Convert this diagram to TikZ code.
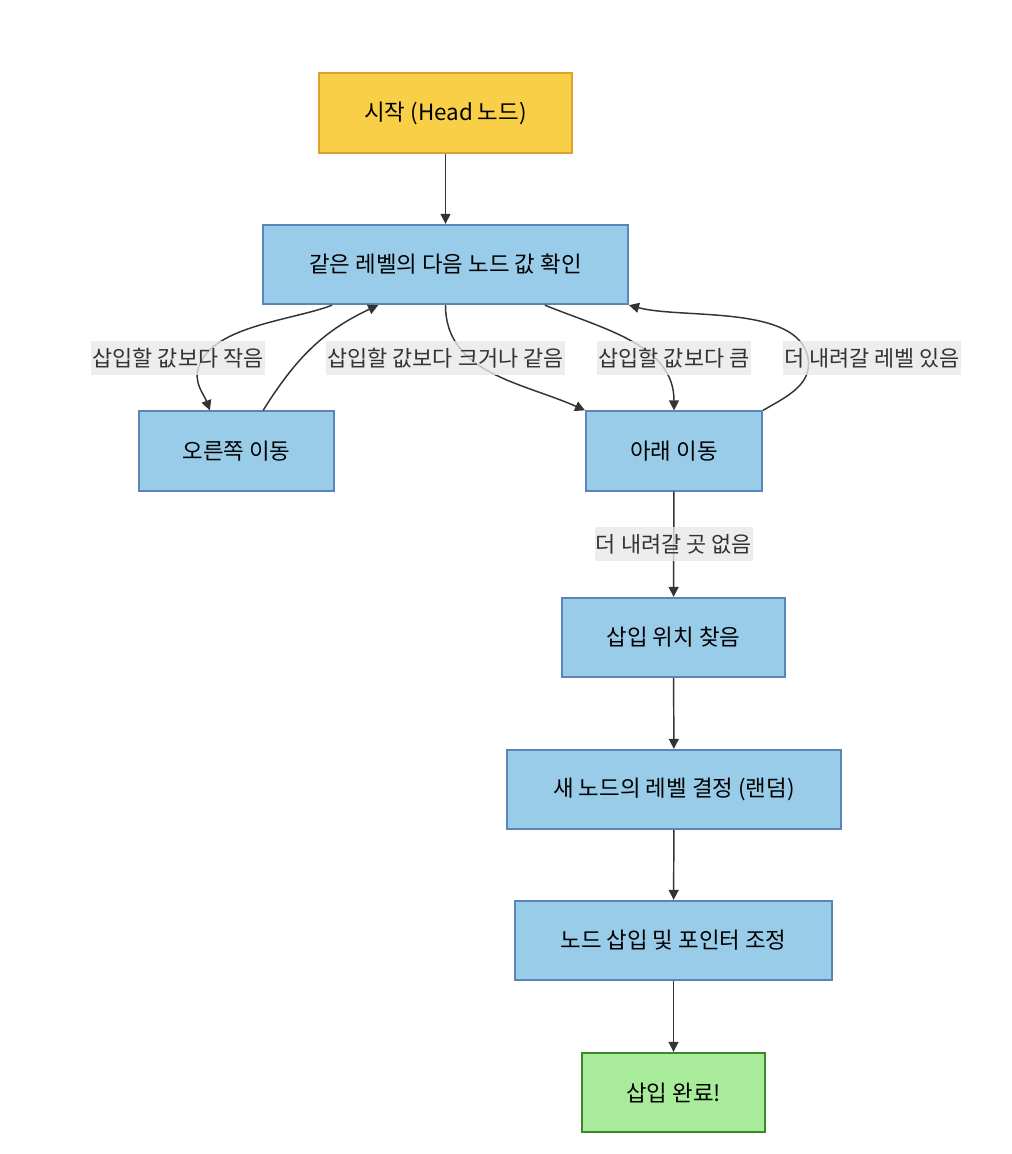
\documentclass[tikz,border=0pt]{standalone}
\usepackage{fontspec}
\setmainfont{Noto Sans CJK KR}
\usepackage{tikz}
\usetikzlibrary{arrows.meta}

\definecolor{startfill}{HTML}{F8CF47}
\definecolor{startline}{HTML}{E0A030}
\definecolor{stepfill}{HTML}{99CCE8}
\definecolor{stepline}{HTML}{5A85B8}
\definecolor{endfill}{HTML}{A8EB9A}
\definecolor{endline}{HTML}{3A8A28}
\definecolor{lblgray}{HTML}{E8E8E8}
\definecolor{edgegray}{HTML}{333333}

\tikzset{
    box/.style={rectangle, line width=1.5pt, minimum height=59.5pt, inner sep=0pt,
        font=\fontsize{16.8pt}{19pt}\selectfont, text=black},
    startbox/.style={box, draw=startline, fill=startfill},
    stepbox/.style={box, draw=stepline, fill=stepfill},
    endbox/.style={box, draw=endline, fill=endfill},
    edge/.style={draw=edgegray, line width=1.1pt,
        -{Triangle[length=7.5pt,width=7.5pt]}},
    lbl/.style={fill=lblgray, fill opacity=0.8, text opacity=1, text=edgegray,
        inner xsep=1pt, inner ysep=0pt, minimum height=25.5pt,
        font=\fontsize{16.4pt}{19pt}\selectfont},
}

\begin{document}
\begin{tikzpicture}[x=0.75pt,y=0.75pt]
\useasboundingbox (0,0) rectangle (1012,-1154);

% nodes
\node[startbox, minimum width=189.75pt] (start) at (445.5,-113) {시작 (Head 노드)};
\node[stepbox, minimum width=273.75pt] (check) at (445.5,-264.5) {같은 레벨의 다음 노드 값 확인};
\node[stepbox, minimum width=146.25pt] (right) at (236.5,-451) {오른쪽 이동};
\node[stepbox, minimum width=132pt] (down) at (674,-451) {아래 이동};
\node[stepbox, minimum width=167.25pt] (found) at (673.5,-637.5) {삽입 위치 찾음};
\node[stepbox, minimum width=250.5pt] (level) at (674,-789.5) {새 노드의 레벨 결정 (랜덤)};
\node[stepbox, minimum width=237.75pt] (insert) at (673.5,-940.5) {노드 삽입 및 포인터 조정};
\node[endbox, minimum width=137.25pt] (done) at (673.5,-1092.5) {삽입 완료!};

% bends of the curved edges
\coordinate (wpless) at (199,-366);
\coordinate (wpdown) at (808,-358);

% edges
\draw[edge] (start) -- (check);
\draw[edge] ([xshift=-85pt]check.south) to[out=201,in=70,looseness=0.75] (wpless)
    to[out=-110,in=110] ([xshift=-20pt]right.north);
\draw[edge] ([xshift=20pt]right.north) to[out=58,in=205] ([xshift=-50.5pt]check.south);
\draw[edge] (check.south) to[out=-90,in=156] (down.north west);
\draw[edge] ([xshift=74.5pt]check.south) to[out=-22,in=90] (down.north);
\draw[edge] (down.north east) to[out=30,in=-80] (wpdown)
    to[out=100,in=-15,looseness=0.75] (check.south east);
\draw[edge] (down) -- node[lbl] (lblnone) {더 내려갈 곳 없음} (found);
\draw[edge] (found) -- (level);
\draw[edge] (level) -- (insert);
\draw[edge] (insert) -- (done);

% edge labels
\node[lbl] (lblless) at (178,-358) {삽입할 값보다 작음};
\node[lbl] (lblgeq) at (445.5,-358) {삽입할 값보다 크거나 같음};
\node[lbl] (lblmore) at (674,-358) {삽입할 값보다 큼};
\node[lbl] (lbllevel) at (872,-358) {더 내려갈 레벨 있음};
\end{tikzpicture}
\end{document}
